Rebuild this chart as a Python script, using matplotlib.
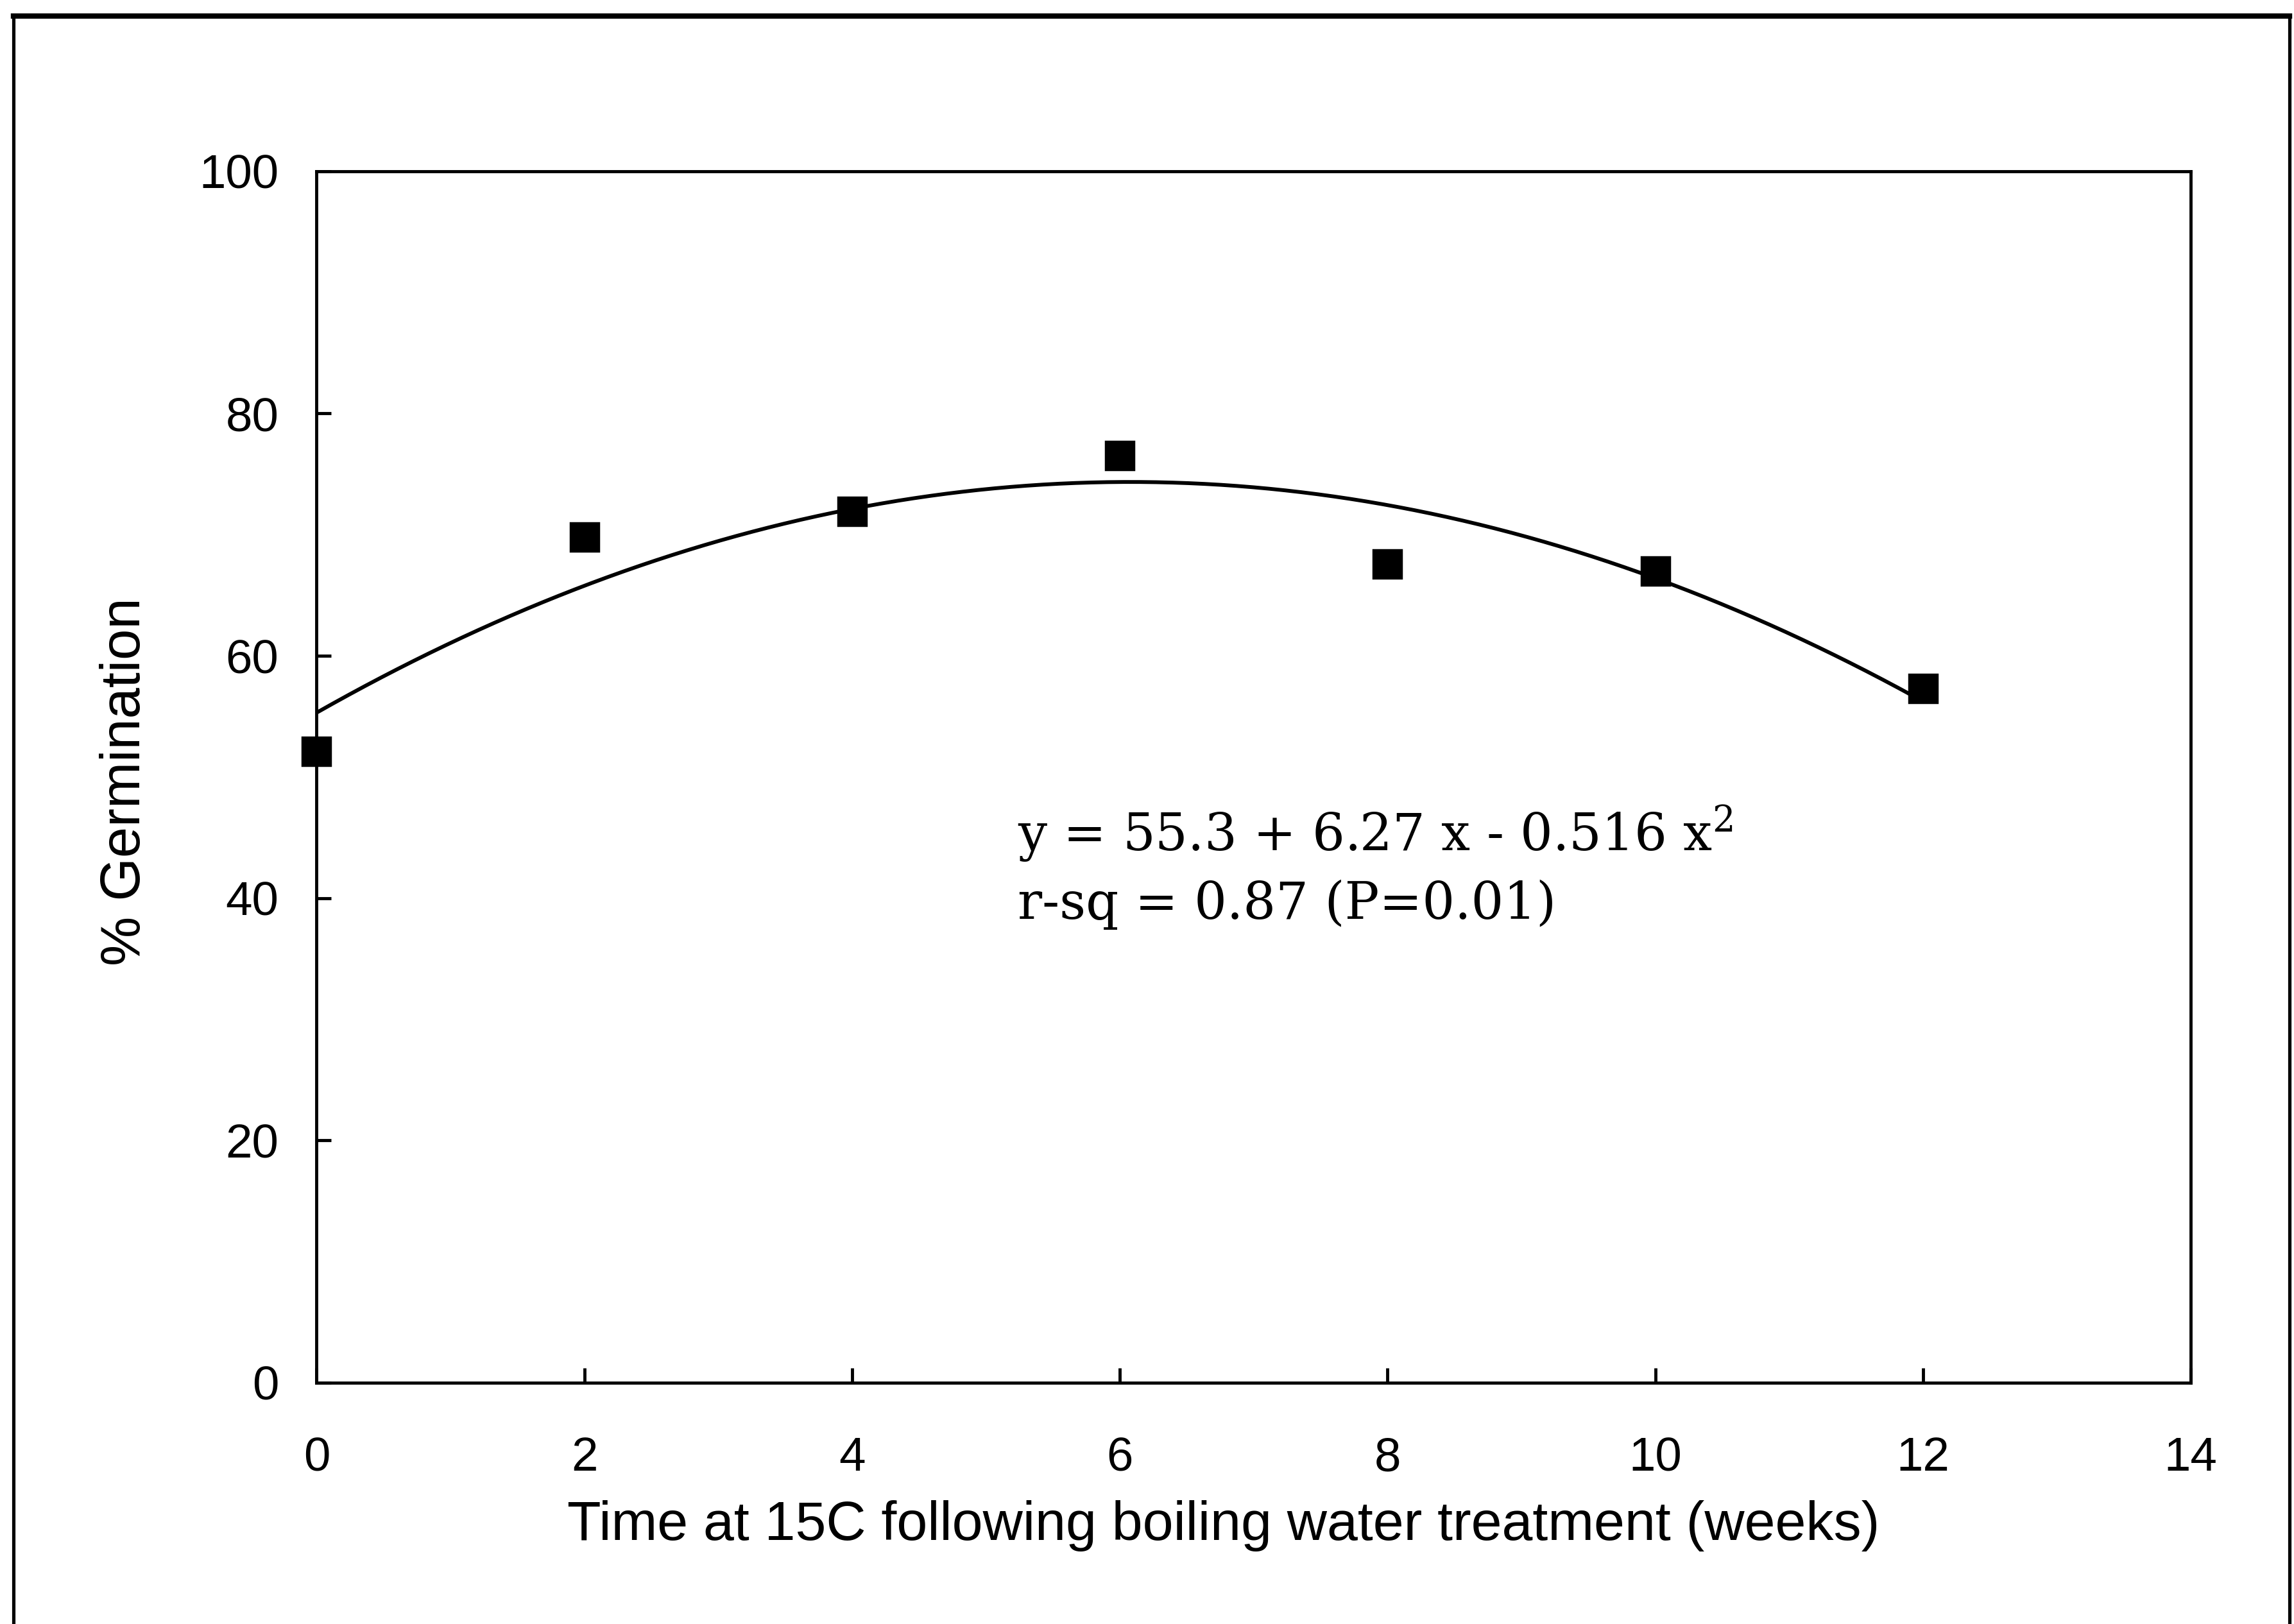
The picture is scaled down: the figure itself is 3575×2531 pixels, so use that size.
import numpy as np
import matplotlib
matplotlib.use('Agg')
import matplotlib.pyplot as plt
from matplotlib.lines import Line2D

# germination data (weeks at 15C after boiling water treatment)
weeks = [0, 2, 4, 6, 8, 10, 12]
germination = [52.1, 69.8, 71.9, 76.5, 67.6, 67.0, 57.3]

# quadratic fit reported on the figure: y = b0 + b1 x + b2 x^2
fit_coef = [55.3, 6.27, -0.516]
fit_label = ['y = 55.3 + 6.27 x - 0.516 x$^{2}$', 'r-sq = 0.87 (P=0.01)']

xticks = [0, 2, 4, 6, 8, 10, 12, 14]
yticks = [0, 20, 40, 60, 80, 100]

plt.rcParams['font.family'] = 'Liberation Sans'
plt.rcParams['mathtext.fontset'] = 'custom'
plt.rcParams['mathtext.rm'] = 'DejaVu Serif'

fig = plt.figure(figsize=(14.3, 10.124), dpi=250)
ax = fig.add_axes([0.138, 0.1486, 0.817, 0.746])

# fitted curve over the sampled range
xfit = np.linspace(weeks[0], weeks[-1], 200)
yfit = np.polyval(fit_coef[::-1], xfit)
ax.plot(xfit, yfit, color='black', lw=1.7, zorder=2)

ax.plot(weeks, germination, ls='none', marker='s', ms=12.5,
        color='black', clip_on=False, zorder=3)

ax.set_xlim(0, 14)
ax.set_ylim(0, 100)
ax.set_xticks(xticks)
ax.set_yticks(yticks)
ax.tick_params(axis='both', direction='in', length=6.5, width=1.4,
               labelsize=21.5, colors='black')
ax.tick_params(axis='x', pad=24)
ax.tick_params(axis='y', pad=17)
for sp in ax.spines.values():
    sp.set_linewidth(1.4)

ax.set_xlabel('Time at 15C following boiling water treatment (weeks)', fontsize=24.8)
ax.xaxis.set_label_coords(0.484, -0.097)
ax.set_ylabel('% Germination', fontsize=25)
ax.yaxis.set_label_coords(-0.088, 0.496)

# regression equation and fit statistics
ax.text(5.235, 43.9, fit_label[0], family='DejaVu Serif', fontsize=23,
        ha='left', va='baseline')
ax.text(5.235, 38.3, fit_label[1], family='DejaVu Serif', fontsize=23,
        ha='left', va='baseline')

# page border around the figure
fig.add_artist(Line2D([0.006, 0.998], [0.990, 0.990], transform=fig.transFigure,
                      color='black', lw=2.4))
fig.add_artist(Line2D([0.006, 0.006], [0.990, 0.0], transform=fig.transFigure,
                      color='black', lw=1.5))
fig.add_artist(Line2D([0.998, 0.998], [0.990, 0.0], transform=fig.transFigure,
                      color='black', lw=1.5))

fig.savefig('out.png', dpi=250, facecolor='white')
